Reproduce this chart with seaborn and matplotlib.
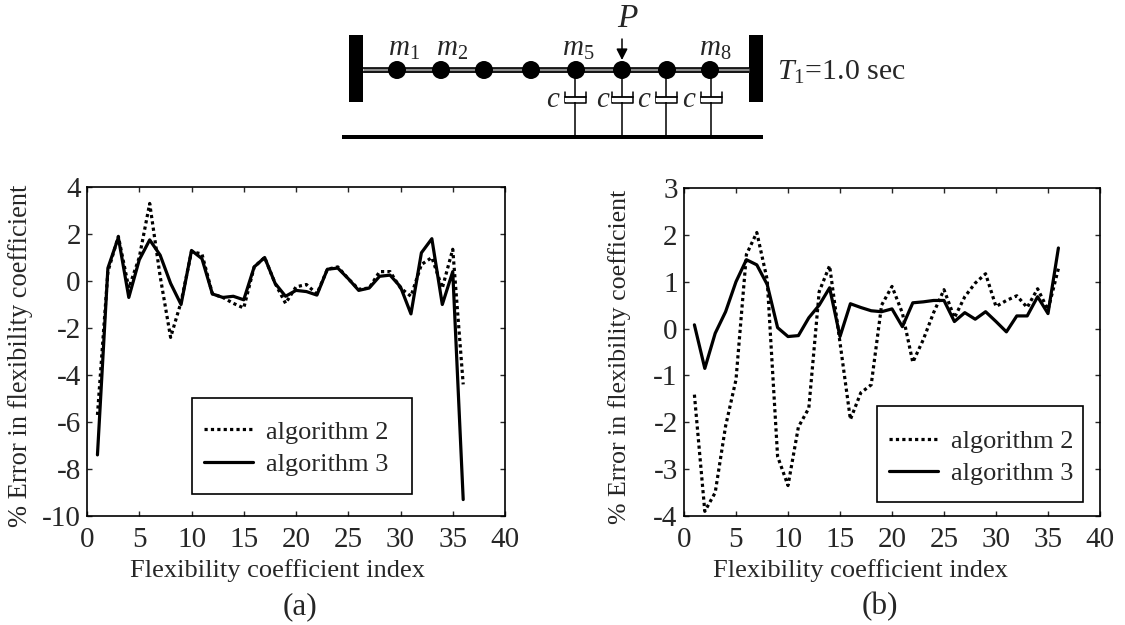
# Flexibility coefficient errors, two panels plus the beam sketch on top
import matplotlib
matplotlib.use('Agg')
import matplotlib.pyplot as plt
from matplotlib.patches import Circle, Rectangle
import pandas as pd
import seaborn as sns

# Data
index = list(range(1, 37))
a_algo2 = [-5.7, 0.4, 1.9, -0.3, 1.0, 3.3, 0.2, -2.4, -0.9, 1.25, 1.15, -0.55,
           -0.7, -0.95, -1.15, 0.6, 1.0, -0.1, -0.95, -0.25, -0.15, -0.55, 0.5, 0.6,
           0.1, -0.35, -0.3, 0.4, 0.4, -0.3, -0.65, 0.7, 1.0, -0.3, 1.35, -4.4]
a_algo3 = [-7.4, 0.55, 1.85, -0.7, 0.9, 1.75, 1.1, -0.1, -1.0, 1.3, 0.95, -0.55,
           -0.7, -0.65, -0.8, 0.6, 1.0, -0.1, -0.65, -0.4, -0.45, -0.6, 0.5, 0.55,
           0.1, -0.4, -0.3, 0.2, 0.25, -0.25, -1.4, 1.2, 1.8, -1.0, 0.4, -9.3]
b_algo2 = [-1.41, -3.9, -3.5, -2.08, -1.09, 1.58, 2.05, 1.04, -2.73, -3.35, -2.1, -1.7,
           0.79, 1.34, -0.3, -1.94, -1.37, -1.2, 0.5, 0.9, 0.33, -0.72, -0.24, 0.34,
           0.83, 0.23, 0.68, 0.97, 1.17, 0.47, 0.6, 0.7, 0.45, 0.85, 0.4, 1.28]
b_algo3 = [0.08, -0.85, -0.1, 0.36, 1.0, 1.47, 1.36, 0.94, 0.02, -0.17, -0.15, 0.23,
           0.5, 0.87, -0.17, 0.53, 0.45, 0.38, 0.36, 0.42, 0.04, 0.55, 0.57, 0.6,
           0.6, 0.15, 0.34, 0.2, 0.36, 0.15, -0.07, 0.27, 0.27, 0.68, 0.32, 1.72]

names = ['algorithm 2', 'algorithm 3']
x_ticks = [0, 5, 10, 15, 20, 25, 30, 35, 40]
a_yticks = [-10, -8, -6, -4, -2, 0, 2, 4]
b_yticks = [-4, -3, -2, -1, 0, 1, 2, 3]
mass_x = [397, 441, 484, 531, 576, 622, 667, 710]
damper_x = [575, 622, 666, 711]
W, H = 1125, 625

sns.set_theme(style='ticks')
plt.rcParams['font.family'] = ['Liberation Serif', 'DejaVu Serif']
plt.rcParams['mathtext.fontset'] = 'custom'
plt.rcParams['mathtext.rm'] = 'Liberation Serif'
plt.rcParams['mathtext.it'] = 'Liberation Serif:italic'
plt.rcParams['axes.unicode_minus'] = False

fig = plt.figure(figsize=(W / 100, H / 100), dpi=100)


def px_axes(left, right, top, bottom):
    return fig.add_axes([left / W, 1 - bottom / H, (right - left) / W, (bottom - top) / H])


def panel(ax, y2, y3, yticks, box, leg_x, leg_y, xlab_x, ylab_x, ylab_font):
    df = pd.DataFrame({'i': index + index, 'err': y2 + y3,
                       'algo': [names[0]] * 36 + [names[1]] * 36})
    sns.lineplot(data=df, x='i', y='err', style='algo', color='black', linewidth=2.3,
                 dashes={names[0]: (1, 1), names[1]: ''}, errorbar=None, ax=ax)
    ax.set_xlim(0, 40)
    ax.set_ylim(yticks[0], yticks[-1])
    ax.set_xticks(x_ticks)
    ax.set_yticks(yticks)
    ax.tick_params(axis='x', direction='in', top=True, length=3.5, width=1, labelsize=21, pad=8)
    ax.tick_params(axis='y', direction='in', right=True, length=3.5, width=1, labelsize=21, pad=4.5)
    for s in ax.spines.values():
        s.set_visible(True)
        s.set_linewidth(1.2)
        s.set_color('black')
    ax.set_xlabel('Flexibility coefficient index', fontsize=19)
    ax.set_ylabel('% Error in flexibility coefficient', fontsize=ylab_font)
    ax.xaxis.set_label_coords(xlab_x, -0.130)
    ax.yaxis.set_label_coords(ylab_x, 0.486)
    # legend box sits apart from the legend itself so its size can be set
    ax.add_patch(Rectangle((box[0], box[1]), box[2], box[3], transform=ax.transAxes,
                           fc='white', ec='black', lw=1.2, zorder=3))
    handles, labels = ax.get_legend_handles_labels()
    leg = ax.legend(handles, labels, frameon=False, fontsize=19, loc='center left',
                    bbox_to_anchor=(leg_x, leg_y), borderpad=0, borderaxespad=0,
                    handlelength=1.85, handletextpad=0.5, labelspacing=0.33)
    leg.set_zorder(4)


ax_a = px_axes(87, 505, 187, 516)
ax_b = px_axes(684, 1100, 188, 516)
panel(ax_a, a_algo2, a_algo3, a_yticks, (0.2510, 0.0669, 0.5263, 0.2918), 0.280, 0.2067,
      0.455, -0.129, 19.1)
panel(ax_b, b_algo2, b_algo3, b_yticks, (0.4639, 0.0427, 0.4952, 0.2927), 0.4925, 0.1783,
      0.425, -0.127, 18.6)

# Sketch and captions use a full figure axes in pixel units
top = fig.add_axes([0, 0, 1, 1])
top.set_xlim(0, W)
top.set_ylim(H, 0)
top.axis('off')
top.patch.set_alpha(0)

top.add_patch(Rectangle((349, 35), 14, 67, fc='black', ec='none'))
top.add_patch(Rectangle((749, 35), 14, 67, fc='black', ec='none'))
top.add_patch(Rectangle((342, 135), 421, 4, fc='black', ec='none'))
top.plot([363, 749], [70, 70], color='0.55', lw=3.6, solid_capstyle='butt')
top.plot([363, 749], [68.2, 68.2], color='black', lw=1.2)
top.plot([363, 749], [71.8, 71.8], color='black', lw=1.2)
for x in damper_x:
    top.plot([x, x], [70, 135], color='black', lw=1.1)
    top.plot([x - 10.5, x - 10.5, x + 10.5, x + 10.5], [92, 103, 103, 92], color='black', lw=1.1)
    top.add_patch(Rectangle((x - 9.8, 97), 19.6, 5.3, fc='white', ec='none', zorder=3))
    top.plot([x - 10.5, x + 10.5], [97, 97], color='black', lw=1.3, zorder=4)
for x in mass_x:
    top.add_patch(Circle((x, 70), 9, fc='black', ec='none', zorder=5))

label_font = 21
top.text(404, 49, r'$m_1$', fontsize=label_font, ha='center', va='center')
top.text(452, 49, r'$m_2$', fontsize=label_font, ha='center', va='center')
top.text(578, 49, r'$m_5$', fontsize=label_font, ha='center', va='center')
top.text(715, 49, r'$m_8$', fontsize=label_font, ha='center', va='center')
for x in [553, 603, 644, 689]:
    top.text(x, 100, 'c', fontsize=label_font, style='italic', ha='center', va='center')
top.text(627, 19, 'P', fontsize=24, style='italic', ha='center', va='center')
top.annotate('', xy=(622, 60), xytext=(622, 39),
             arrowprops=dict(arrowstyle='-|>,head_width=0.28,head_length=0.55', color='black', lw=1.1,
                             shrinkA=0, shrinkB=0))
top.text(777, 72, r'$T_1$=1.0 sec', fontsize=21.5, ha='left', va='center')
top.text(300, 607, '(a)', fontsize=22.5, ha='center', va='center')
top.text(880, 607, '(b)', fontsize=22.5, ha='center', va='center')

fig.savefig('out.png', dpi=100)
